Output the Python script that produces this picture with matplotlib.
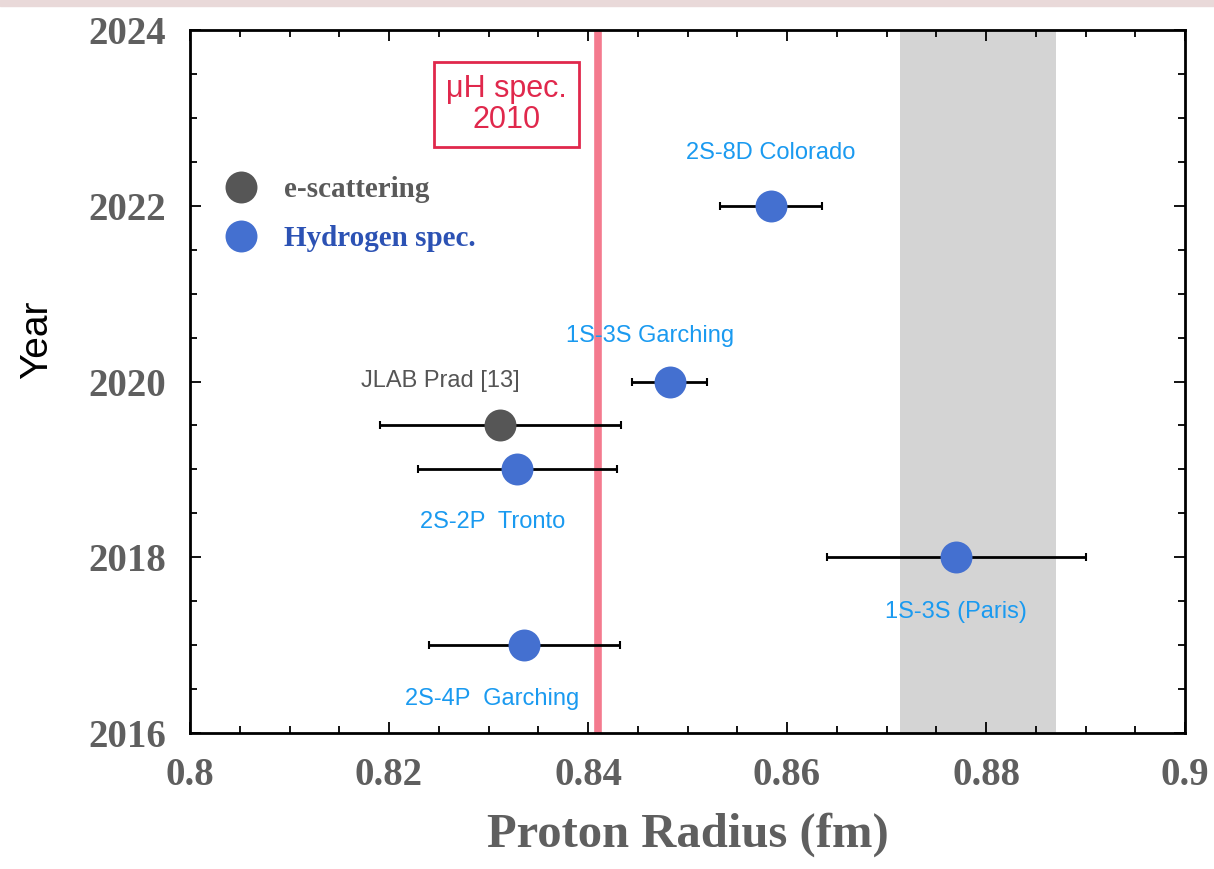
import matplotlib.pyplot as plt
import numpy as np
from matplotlib.lines import Line2D
from matplotlib.patches import Rectangle
from matplotlib.ticker import MultipleLocator

# measurements: radius (fm), year, error
names = ["2S-8D Colorado", "1S-3S Garching", "JLAB Prad [13]", "2S-2P  Tronto", "1S-3S (Paris)", "2S-4P  Garching"]
radius = [0.8584, 0.8482, 0.8312, 0.8329, 0.8770, 0.8336]
year = [2022, 2020, 2019.5, 2019, 2018, 2017]
err = [0.0051, 0.0038, 0.0121, 0.0100, 0.0130, 0.0096]
kind = ["H", "H", "e", "H", "H", "H"]

muh_radius = 0.8410
band = [0.8714, 0.8870]

c_e = '#565656'
c_h = '#4470d0'
c_lab = '#1a9af0'

fig = plt.figure(figsize=(12.14, 8.69), dpi=100)
fig.patches.append(Rectangle((0, 1 - 6/869), 1, 6/869, transform=fig.transFigure,
                             color='#e9d9d9', zorder=0))
ax = fig.add_axes([190/1214, 1 - 733/869, 995/1214, 703/869])

ax.axvspan(band[0], band[1], color='#d4d4d4', lw=0, zorder=0)
ax.axvline(muh_radius, color='#f47a8e', lw=5.5, zorder=1)

for i in range(len(names)):
	col = c_e if kind[i] == "e" else c_h
	ax.errorbar(radius[i], year[i], xerr=err[i], fmt='none', ecolor='black',
	            elinewidth=2, capsize=3, capthick=1.5, zorder=2)
	ax.plot(radius[i], year[i], 'o', ms=23, color=col, mec='none', zorder=3)

# point labels
lab_pos = [(0.8584, 2022.6, c_lab), (0.8462, 2020.52, c_lab), (0.8252, 2020.0, '#555555'),
           (0.8304, 2018.4, c_lab), (0.8770, 2017.38, c_lab), (0.8304, 2016.39, c_lab)]
for i in range(len(names)):
	x, y, c = lab_pos[i]
	ax.text(x, y, names[i], color=c, fontsize=17, family='Liberation Sans',
	        ha='center', va='center')

ax.text(0.8318, 2023.15, "\u03bcH spec.\n2010", color='#e0284c', fontsize=22,
        family='Liberation Sans', ha='center', va='center', linespacing=1.05,
        bbox=dict(boxstyle='square,pad=0.4', fc='white', ec='#e0284c', lw=2))

ax.set_xlim(0.8, 0.9)
ax.set_ylim(2016, 2024)
ax.xaxis.set_major_locator(MultipleLocator(0.02))
ax.xaxis.set_minor_locator(MultipleLocator(0.005))
ax.yaxis.set_major_locator(MultipleLocator(2))
ax.yaxis.set_minor_locator(MultipleLocator(0.5))
ax.set_xticks([0.8, 0.82, 0.84, 0.86, 0.88, 0.9])
ax.set_xticklabels(['0.8', '0.82', '0.84', '0.86', '0.88', '0.9'])
ax.tick_params(which='both', direction='in', top=True, right=True, width=1.3)
ax.tick_params(which='major', length=8)
ax.tick_params(which='minor', length=5)
ax.tick_params(axis='x', pad=17)
ax.tick_params(axis='y', pad=17)
for lbl in ax.get_xticklabels() + ax.get_yticklabels():
	lbl.set_family('Liberation Serif')
	lbl.set_weight('bold')
	lbl.set_fontsize(28)
	lbl.set_color('#5f5f5f')
for sp in ax.spines.values():
	sp.set_linewidth(2)

ax.set_xlabel('Proton Radius (fm)', family='Liberation Serif', weight='bold',
              fontsize=35, color='#5f5f5f')
ax.xaxis.set_label_coords(0.5, -0.112)
ax.set_ylabel('Year', family='Liberation Sans', fontsize=28, color='black')
ax.yaxis.set_label_coords(-0.136, 0.56)

handles = [Line2D([], [], ls='none', marker='o', ms=23, color=c_e, mec='none'),
           Line2D([], [], ls='none', marker='o', ms=23, color=c_h, mec='none')]
leg = ax.legend(handles, ['e-scattering', 'Hydrogen spec.'], loc='upper left',
                bbox_to_anchor=(-0.004, 0.829), frameon=False, handletextpad=0.45,
                labelspacing=0.75, prop=dict(family='Liberation Serif', weight='bold', size=21))
leg.get_texts()[0].set_color('#5a5a5a')
leg.get_texts()[1].set_color('#2c52b4')

plt.savefig('out.png', dpi=100)
